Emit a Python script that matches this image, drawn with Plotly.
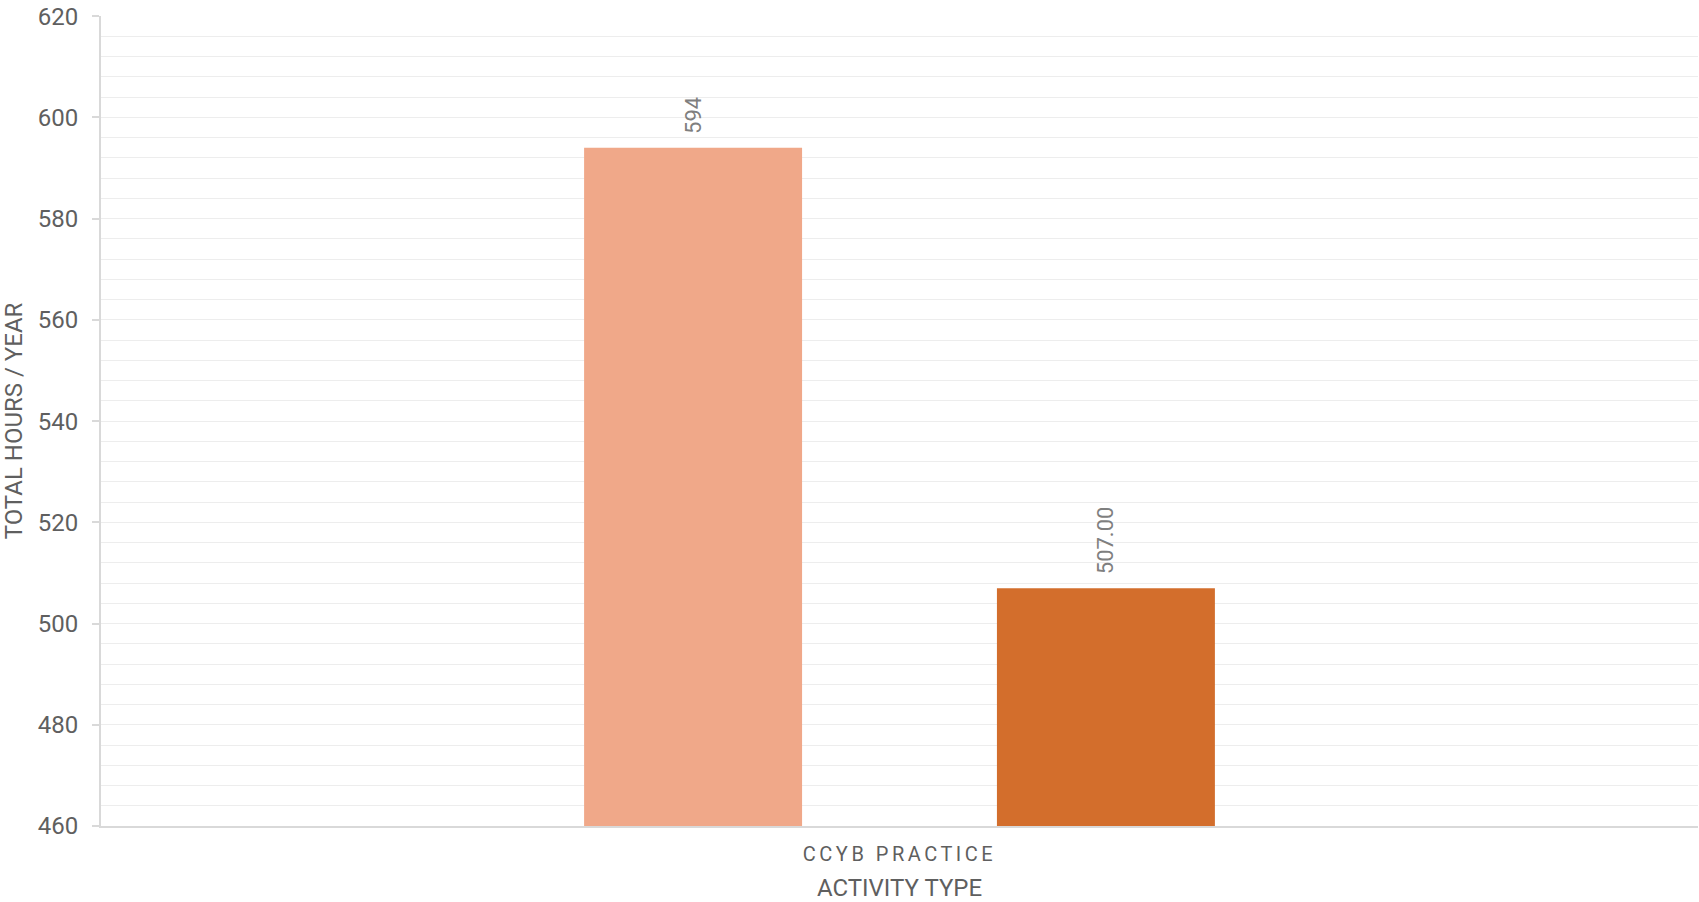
import plotly.graph_objects as go

categories = ["CCYB PRACTICE"]
series_names = ["Series A", "Series B"]
series_values = [[594], [507]]
label_texts = ["594", "507.00"]
colors = ["#F0A889", "#D36E2C"]

fig = go.Figure()
pad = "\u00a0\u00a0"
for name, vals, lab, col in zip(series_names, series_values, label_texts, colors):
    fig.add_trace(go.Bar(
        x=categories, y=vals, name=name,
        marker=dict(color=col, line=dict(width=0)),
        text=[pad + lab], textposition="outside", textangle=-90,
        constraintext="none", cliponaxis=False,
        textfont=dict(family="Roboto", size=22, color="#7f7f7f"),
    ))

fig.update_layout(
    width=1699, height=902,
    margin=dict(l=101, r=1, t=16, b=76),
    paper_bgcolor="white", plot_bgcolor="white",
    barmode="group", bargap=0.483, bargroupgap=0.472,
    showlegend=False,
    font=dict(family="Roboto", color="#5f5f5f"),
)
fig.update_yaxes(
    range=[460, 620.05], dtick=20, tick0=460,
    showgrid=True, gridcolor="#ededed", gridwidth=1,
    minor=dict(dtick=4, showgrid=True, gridcolor="#ededed", gridwidth=1, ticks=""),
    showline=True, linecolor="#d9d9d9", linewidth=2,
    ticks="outside", ticklen=7, tickcolor="#d9d9d9", tickwidth=2,
    ticklabelstandoff=9, ticklabeloverflow="allow",
    tickfont=dict(family="Roboto", size=24, color="#5f5f5f"),
    title=dict(text="TOTAL HOURS / YEAR", font=dict(family="Roboto", size=24, color="#5f5f5f"), standoff=10),
    zeroline=False,
)
fig.update_xaxes(
    showgrid=False, showline=True, linecolor="#d9d9d9", linewidth=2,
    ticks="", ticklabelstandoff=9,
    tickfont=dict(family="Roboto", size=20, color="#5f5f5f"),
    title=dict(text="ACTIVITY TYPE", font=dict(family="Roboto", size=24, color="#5f5f5f"), standoff=14),
)

fig.write_html(
    "out.html",
    config={"displayModeBar": False},
    post_script=(
        "document.body.style.margin='0';"
        "document.querySelectorAll('.xtick text').forEach(function(t){t.style.letterSpacing='3.5px';});"
    ),
)
